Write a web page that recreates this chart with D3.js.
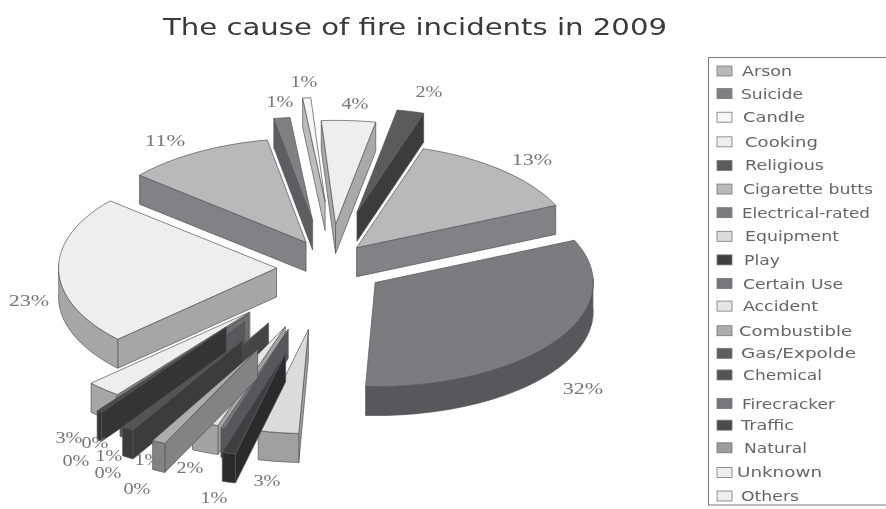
<!DOCTYPE html>
<html><head><meta charset="utf-8">
<style>html,body{margin:0;padding:0;background:#fff}svg{display:block;filter:blur(.45px)}</style>
<script src="https://cdnjs.cloudflare.com/ajax/libs/d3/7.8.5/d3.min.js"></script></head>
<body><div id="c"></div><script>
const categories=["Arson","Suicide","Candle","Cooking","Religious","Cigarette butts","Electrical-rated","Equipment","Play","Certain Use","Accident","Combustible","Gas/Expolde","Chemical","Firecracker","Traffic","Natural","Unknown","Others"];
const values=[11,1.2,0.6,4,2,13.4,32.4,3,1,0.3,2,1,0.4,0.9,0.4,0.4,0.3,2.6,23.2];
const topColors=["#b9b9bc","#808084","#f6f6f6","#eeeef1","#5b5b5e","#b9b9bc","#7c7c80","#dcdcde","#3f3f41","#77777b","#e6e6e8","#adadaf","#5f5f62","#545457","#77777b","#4a4a4c","#9c9c9f","#eeeef0","#eeeef0"];
const wallColors=["#828286","#5e5e62","#bcbcbc","#a9a9ac","#3c3c3e","#828286","#58585c","#a0a0a2","#2b2b2d","#58585c","#a3a3a5","#838386","#454547","#3c3c3e","#58585c","#343436","#6e6e70","#a6a6a8","#a6a6a8"];
// per-slice explosion: direction (degrees clockwise from 12 o'clock) and distance (fraction of radius)
const explodeDir=[-24,-10,-2,3.5,13,32,124,189.5,194,198,200,203,208,210,217,220,220,221,-90];
const explodeDist=[0.27,0.46,0.64,0.42,0.55,0.23,0.25,0.6,0.84,0.62,0.6,0.85,0.6,0.8,0.65,0.74,0.58,0.56,0.245];
const legendNudgeY=[0,-1,-1,0,0,0,0,0,0,0,-1,0,-1,-3,2,0,-1,0,0];
const legendTextX=[742,741,743,745,745,743,742,745,744,743,743,739,741,743,742,741,744,737,741];
const legendTextW=[50,62,62,73,79,130,128,94,36,100,75,113,115,79,93,53,63,85,58];
// label layout [x,y] centre; null = label hidden behind a slice
const labelPos=[[165,141],[280,102],[304,82],[355,104],[429,92],[532,160],[583,389],[267,481],[214,498],[137,489],[190,468],[148,460],[108,473],[109,456],[76,461],null,[95,443],[69,438],[29,301]];

const W=886,H=509;
const svg=d3.select("#c").append("svg").attr("width",W).attr("height",H);
svg.append("text").attr("x",163).attr("y",35).attr("textLength",504).attr("lengthAdjust","spacingAndGlyphs")
 .style("font","23px 'DejaVu Sans'").attr("fill","#3a3a3a").text("The cause of fire incidents in 2009");

const view={cx:330,cy:268,rx:218,ry:104,h:29};
const rad=Math.PI/180;
const pie=d3.pie().sort(null).value(d=>d).startAngle(-49.8*rad).endAngle((360-49.8)*rad);
const arcs=pie(values).map((d,i)=>({...d,i,mid:(d.startAngle+d.endAngle)/2}));
function proj(d,a,r,z){
  const dir=explodeDir[d.i]*rad,e=explodeDist[d.i];
  const X=r*Math.sin(a)+e*Math.sin(dir), Y=-r*Math.cos(a)-e*Math.cos(dir);
  return [view.cx+view.rx*X, view.cy+view.ry*Y+z*view.h];
}
const line=d3.line();
const g=svg.append("g").attr("stroke-linejoin","round");
function face(pts,fill){g.append("path").attr("d",line(pts)+"Z").attr("fill",fill).attr("stroke","#555").attr("stroke-width",.7);}
arcs.slice().sort((a,b)=>proj(a,a.mid,.5,0)[1]-proj(b,b.mid,.5,0)[1]).forEach(d=>{
  const wall=wallColors[d.i],top=topColors[d.i];
  const steps=d3.range(0,1.0001,1/Math.max(2,Math.ceil((d.endAngle-d.startAngle)*40)));
  const angs=steps.map(t=>d.startAngle+t*(d.endAngle-d.startAngle));
  const a0=d.startAngle,a1=d.endAngle;
  if(Math.sin(a0)<0) face([proj(d,0,0,0),proj(d,a0,1,0),proj(d,a0,1,1),proj(d,0,0,1)],wall);
  if(Math.sin(a1)>0) face([proj(d,0,0,0),proj(d,a1,1,0),proj(d,a1,1,1),proj(d,0,0,1)],wall);
  const fr=angs.filter(a=>Math.cos(a)<0.05);
  if(fr.length>1) face(fr.map(a=>proj(d,a,1,0)).concat(fr.slice().reverse().map(a=>proj(d,a,1,1))),wall);
  face([proj(d,0,0,0)].concat(angs.map(a=>proj(d,a,1,0))),top);
});

// data labels
svg.append("g").selectAll("text").data(arcs.filter(d=>labelPos[d.i])).join("text")
 .attr("x",d=>labelPos[d.i][0]).attr("y",d=>labelPos[d.i][1]+5).attr("text-anchor","middle")
 .attr("textLength",d=>13.5*(Math.round(d.data)+"%").length).attr("lengthAdjust","spacingAndGlyphs")
 .style("font","17px 'Liberation Serif'").attr("fill","#777")
 .text(d=>Math.round(d.data)+"%");

// legend
svg.append("rect").attr("x",708.5).attr("y",57.5).attr("width",200).attr("height",447.5).attr("fill","none").attr("stroke","#777").attr("stroke-width",1);
const ly=d3.scalePoint().domain(categories).range([71,496]);
const leg=svg.append("g").selectAll("g").data(categories).join("g")
 .attr("transform",(c,i)=>`translate(0,${ly(c)+legendNudgeY[i]})`);
leg.append("rect").attr("x",717).attr("y",-5).attr("width",15).attr("height",10)
 .attr("fill",(c,i)=>topColors[i]).attr("stroke","#777").attr("stroke-width",.8);
leg.append("text").attr("x",(c,i)=>legendTextX[i]).attr("y",5)
 .attr("textLength",(c,i)=>legendTextW[i]).attr("lengthAdjust","spacingAndGlyphs")
 .style("font","14px 'DejaVu Sans'").attr("fill","#666").text(c=>c);
</script></body></html>
